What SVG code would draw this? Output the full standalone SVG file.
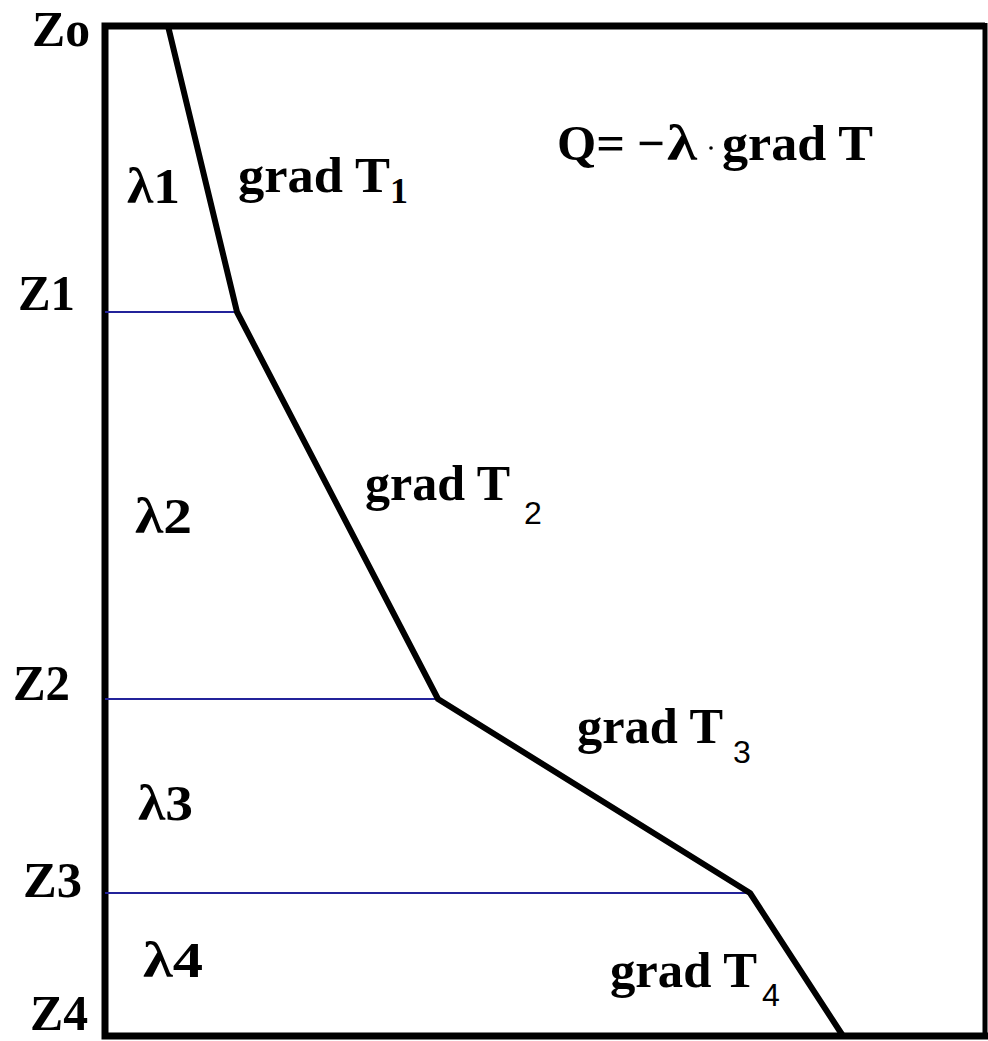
<svg xmlns="http://www.w3.org/2000/svg" width="988" height="1041" viewBox="0 0 988 1041">
<style>
.t{font-family:"Liberation Serif","Times New Roman",serif;font-weight:bold;font-size:50px;fill:#000}
.s{font-family:"Liberation Sans",Arial,sans-serif;font-size:32px;fill:#000}
.b{stroke:#23239a;stroke-width:2;fill:none}
.k{stroke:#000;fill:none}
</style>
<rect width="988" height="1041" fill="#fff"/>
<g id="frame">
<polyline class="k" stroke-width="7" points="985,26 105,26 105,1036 988,1036"/>
<line class="k" stroke-width="5" x1="985" y1="23" x2="985" y2="1038"/>
</g>
<g id="boundaries">
<line class="b" x1="105" y1="312" x2="237" y2="312"/>
<line class="b" x1="105" y1="699" x2="438" y2="699"/>
<line class="b" x1="105" y1="893" x2="750" y2="893"/>
</g>
<g id="profile">
<polyline class="k" stroke-width="6" stroke-linejoin="round" points="168,26 237,312 438,699 750,893 843,1036"/>
</g>
<g id="depth-labels">
<text class="t" x="32" y="46" textLength="58" lengthAdjust="spacingAndGlyphs">Zo</text>
<text class="t" x="18" y="310" textLength="57" lengthAdjust="spacingAndGlyphs">Z1</text>
<text class="t" x="13" y="700" textLength="57" lengthAdjust="spacingAndGlyphs">Z2</text>
<text class="t" x="23" y="897" textLength="59" lengthAdjust="spacingAndGlyphs">Z3</text>
<text class="t" x="30" y="1030" textLength="58" lengthAdjust="spacingAndGlyphs">Z4</text>
</g>
<g id="conductivity-labels">
<text class="t" x="127" y="203" textLength="53" lengthAdjust="spacingAndGlyphs">λ1</text>
<text class="t" x="135" y="533" textLength="57" lengthAdjust="spacingAndGlyphs">λ2</text>
<text class="t" x="138" y="820" textLength="55" lengthAdjust="spacingAndGlyphs">λ3</text>
<text class="t" x="143" y="977" textLength="60" lengthAdjust="spacingAndGlyphs">λ4</text>
</g>
<g id="gradient-labels">
<text class="t" x="238" y="192" textLength="152" lengthAdjust="spacingAndGlyphs">grad T</text>
<text class="t" x="390" y="203" style="font-size:36px">1</text>
<text class="t" x="365" y="500" textLength="145" lengthAdjust="spacingAndGlyphs">grad T</text>
<text class="s" x="524" y="524">2</text>
<text class="t" x="577" y="743" textLength="146" lengthAdjust="spacingAndGlyphs">grad T</text>
<text class="s" x="733" y="763">3</text>
<text class="t" x="610" y="987" textLength="147" lengthAdjust="spacingAndGlyphs">grad T</text>
<text class="s" x="762" y="1006">4</text>
</g>
<g id="formula">
<text class="t" x="557" y="160" textLength="68" lengthAdjust="spacingAndGlyphs">Q=</text>
<text class="t" x="637" y="160" textLength="28" lengthAdjust="spacingAndGlyphs">−</text>
<text class="t" x="667" y="160" textLength="30" lengthAdjust="spacingAndGlyphs">λ</text>
<circle cx="711" cy="148" r="1.8" fill="#000"/>
<text class="t" x="722" y="160" textLength="151" lengthAdjust="spacingAndGlyphs">grad T</text>
</g>
</svg>
